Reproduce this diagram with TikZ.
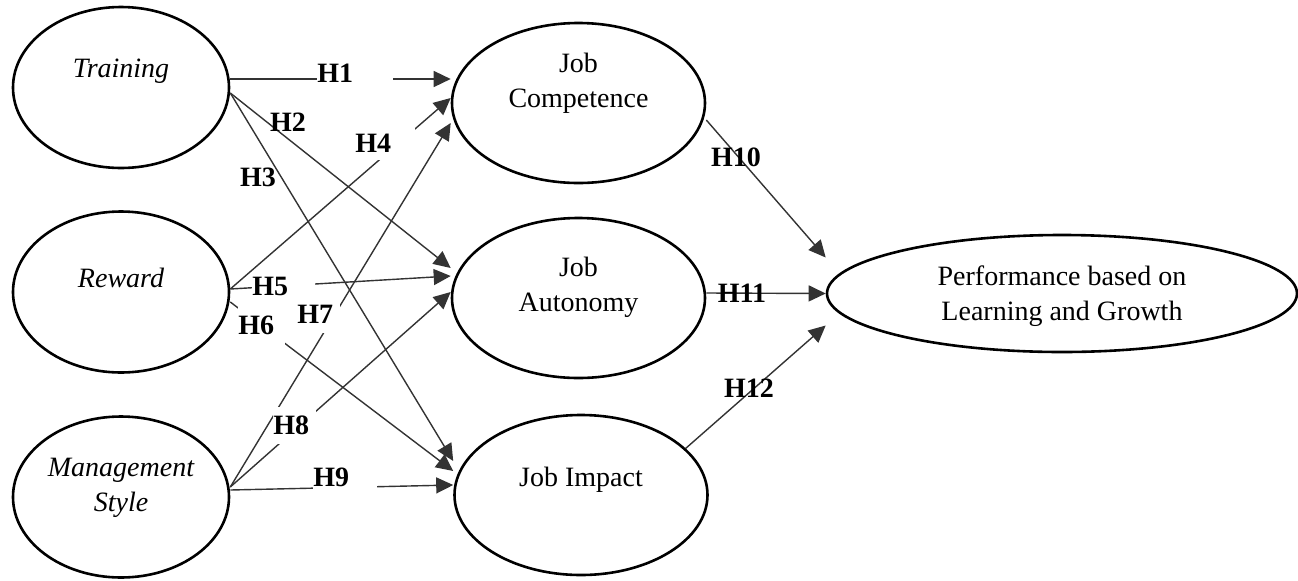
\documentclass[tikz,border=0pt]{standalone}
\usepackage{fontspec}
\setmainfont{Liberation Serif}
\usetikzlibrary{arrows.meta,shapes.geometric}
\definecolor{ink}{HTML}{333333}

\begin{document}
\begin{tikzpicture}[
  x=0.5pt, y=-0.5pt, font=\fontsize{14}{17.5}\selectfont,
  >={Triangle[length=8.5pt,width=8pt]}, line join=round,
  latent/.style={draw, ellipse, line width=1.3pt, inner sep=0pt,
    minimum width=108pt, minimum height=80.5pt},
  mediator/.style={latent, minimum width=126.5pt, minimum height=80pt},
  txt/.style={align=center, inner sep=0pt},
  exo/.style={txt, font=\fontsize{14}{17.5}\selectfont\itshape},
  link/.style={->, ink, line width=0.7pt},
  hyp/.style={font=\fontsize{14}{16}\selectfont\bfseries, inner sep=0pt},
  gaplab/.style={hyp, fill=white, anchor=west, align=left, minimum height=14pt}]

\useasboundingbox (0,0) rectangle (1298,580);

% ================================================================ constructs
\node[latent, label={[exo, yshift=8pt]center:Training}] (train) at (121,87.5) {};
\node[latent, label={[exo, yshift=7pt]center:Reward}] (reward) at (121,292) {};
\node[latent, label={[exo, yshift=4.75pt]center:{Management\\Style}}] (mgmt) at (121,497) {};

\node[mediator, label={[txt, yshift=9.75pt]center:{Job\\Competence}}] (comp) at (578.5,103) {};
\node[mediator, label={[txt, yshift=5.25pt]center:{Job\\Autonomy}}] (auto) at (578.5,298) {};
\node[mediator, label={[txt, yshift=7.5pt]center:Job Impact}] (impact) at (581,495) {};

\node[latent, minimum width=235pt, minimum height=58.5pt,
  label={[txt, yshift=-1.5pt]center:{Performance based on\\Learning and Growth}}]
  (perf) at (1062,293.5) {};

% ================================================================ paths
\draw[link] ([yshift=4.25pt]train.east)  -- ([yshift=12pt]comp.west);
\draw[link] ([yshift=-2.75pt]train.east) -- ([yshift=15pt]auto.west);
\draw[link] ([yshift=-2.75pt]train.east) -- ([yshift=17pt]impact.west);
\draw[link] ([yshift=1.5pt]reward.east)  -- ([yshift=2.5pt]comp.west);
\draw[link] ([yshift=1.5pt]reward.east)  -- ([yshift=11pt]auto.west);
\draw[link] ([yshift=-5pt]reward.east)   -- ([yshift=12pt]impact.west);
\draw[link] ([yshift=5pt]mgmt.east)      -- ([yshift=-10pt]comp.west);
\draw[link] ([yshift=5pt]mgmt.east)      -- ([yshift=3pt]auto.west);
\draw[link] ([yshift=3.5pt]mgmt.east)    -- ([yshift=5pt]impact.west);

\draw[link] ([yshift=-8.5pt]comp.east) -- ([yshift=18pt]perf.west);
\draw[link] ([yshift=2.5pt]auto.east)  -- (perf.west);
\draw[link] (impact.24)                -- ([yshift=-16pt]perf.west);

% hypothesis labels (the boxed ones break the line under them)
\node[gaplab, text width=38pt] (h1) at (317,73) {H1};
\node[hyp] (h2) at (288,122) {H2};
\node[hyp] (h3) at (258,177) {H3};
\node[gaplab, text width=30pt, minimum height=17pt] (h4) at (355,143) {H4};
\node[gaplab, text width=31.5pt] (h5) at (252,286) {H5};
\node[gaplab, text width=23.5pt, minimum height=20pt] (h6) at (238,325) {H6};
\node[gaplab, text width=21.5pt, minimum height=18.5pt] (h7) at (297,314.5) {H7};
\node[gaplab, text width=21.5pt, minimum height=18.5pt] (h8) at (273,425.5) {H8};
\node[gaplab, text width=32pt] (h9) at (313,477) {H9};
\node[hyp] (h10) at (736,157) {H10};
\node[hyp] (h11) at (742,293) {H11};
\node[hyp] (h12) at (749,388) {H12};

\end{tikzpicture}
\end{document}
